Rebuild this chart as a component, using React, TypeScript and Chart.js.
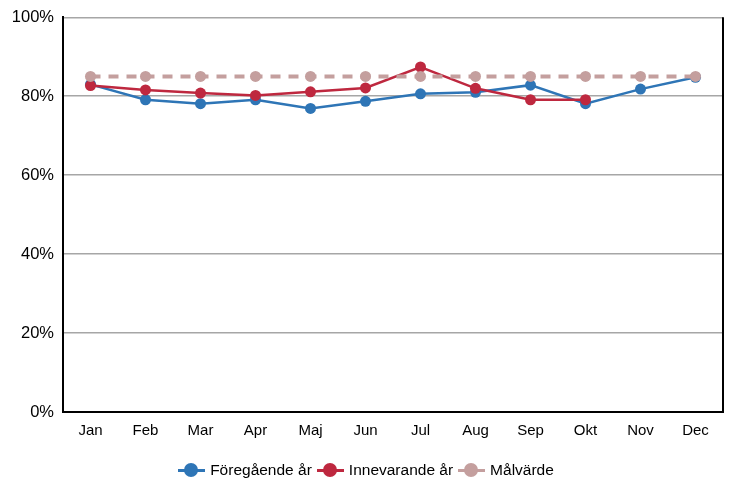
import React, { useEffect, useRef } from "react";
import { Chart, registerables } from "chart.js";

Chart.register(...registerables);

const categories = ["Jan", "Feb", "Mar", "Apr", "Maj", "Jun", "Jul", "Aug", "Sep", "Okt", "Nov", "Dec"];
const previousYear = [83.0, 79.1, 78.1, 79.1, 76.9, 78.7, 80.6, 81.0, 82.8, 78.1, 81.8, 84.8];
const currentYear: (number | null)[] = [82.7, 81.6, 80.8, 80.2, 81.1, 82.1, 87.4, 82.0, 79.1, 79.1, null, null];
const targetValue = [85, 85, 85, 85, 85, 85, 85, 85, 85, 85, 85, 85];
const yTicks = [0, 20, 40, 60, 80, 100];

const seriesNames = ["Föregående år", "Innevarande år", "Målvärde"];
const colors = ["#2e75b6", "#be283f", "#c49f9e"];

const FONT = "'Liberation Sans', Arial, sans-serif";

export default function App() {
  const ref = useRef<HTMLCanvasElement | null>(null);

  useEffect(() => {
    if (!ref.current) return;
    const rightBorder = {
      id: "rightBorder",
      afterDatasetsDraw(chart: any) {
        const { ctx, chartArea } = chart;
        ctx.save();
        ctx.strokeStyle = "#000000";
        ctx.lineWidth = 2;
        ctx.beginPath();
        ctx.moveTo(chartArea.right, chartArea.top);
        ctx.lineTo(chartArea.right, chartArea.bottom);
        ctx.stroke();
        ctx.restore();
      },
    };
    const chart = new Chart(ref.current, {
      type: "line",
      data: {
        labels: categories,
        datasets: [
          {
            label: seriesNames[0],
            data: previousYear,
            borderColor: colors[0],
            backgroundColor: colors[0],
            borderWidth: 2.5,
            pointRadius: 5.5,
            pointHoverRadius: 5.5,
            pointBorderWidth: 0,
            order: 2,
          },
          {
            label: seriesNames[1],
            data: currentYear,
            borderColor: colors[1],
            backgroundColor: colors[1],
            borderWidth: 2.5,
            pointRadius: 5.5,
            pointHoverRadius: 5.5,
            pointBorderWidth: 0,
            order: 1,
          },
          {
            label: seriesNames[2],
            data: targetValue,
            borderColor: colors[2],
            backgroundColor: colors[2],
            borderWidth: 4,
            borderDash: [10, 8],
            pointRadius: 5.5,
            pointHoverRadius: 5.5,
            pointBorderWidth: 0,
            order: 0,
          },
        ],
      },
      options: {
        animation: false,
        responsive: false,
        maintainAspectRatio: false,
        layout: { padding: { left: 0, top: 16, right: 9, bottom: 0 } },
        plugins: { legend: { display: false }, tooltip: { enabled: false } },
        scales: {
          x: {
            offset: true,
            grid: { display: false, drawTicks: false },
            border: { color: "#000000", width: 2 },
            ticks: { color: "#000000", font: { family: FONT, size: 15 }, padding: 10 },
            afterFit: (s: any) => { s.height = 74; },
          },
          y: {
            min: 0,
            max: 100,
            afterBuildTicks: (s: any) => { s.ticks = yTicks.map((v) => ({ value: v })); },
            grid: { color: "#a6a6a6", lineWidth: 1.5, drawTicks: false },
            border: { color: "#000000", width: 2 },
            ticks: {
              color: "#000000",
              font: { family: FONT, size: 16.5, lineHeight: 1 },
              padding: 9,
              callback: (v: any) => v + "%",
            },
            afterFit: (s: any) => { s.width = 63; },
          },
        },
      },
      plugins: [rightBorder],
    });
    return () => chart.destroy();
  }, []);

  const marker = (c: string) => (
    <span style={{ position: "relative", display: "inline-block", width: 27, height: 14, marginRight: 5 }}>
      <span style={{ position: "absolute", left: 0, right: 0, top: 6, height: 3, background: c }} />
      <span style={{ position: "absolute", left: 6, top: 0, width: 14, height: 14, borderRadius: 7, background: c }} />
    </span>
  );

  return (
    <div style={{ position: "absolute", left: 0, top: 0, width: 732, height: 486, background: "#fff" }}>
      <canvas ref={ref} width={732} height={486} style={{ display: "block" }} />
      <div
        style={{
          position: "absolute",
          left: 0,
          top: 461,
          width: 732,
          display: "flex",
          justifyContent: "center",
          alignItems: "center",
          fontFamily: FONT,
          fontSize: 15.5,
          color: "#000",
        }}
      >
        {seriesNames.map((n, i) => (
          <span key={n} style={{ display: "inline-flex", alignItems: "center", marginRight: i < 2 ? 5 : 0 }}>
            {marker(colors[i])}
            <span>{n}</span>
          </span>
        ))}
      </div>
    </div>
  );
}
